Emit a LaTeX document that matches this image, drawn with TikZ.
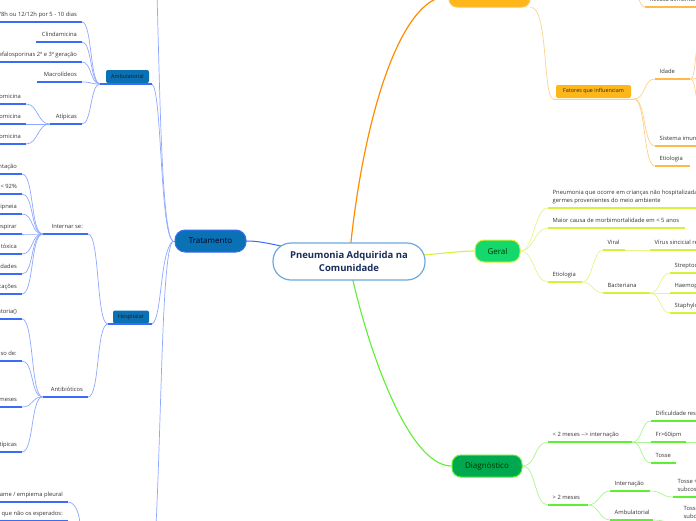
\documentclass[tikz,border=0pt]{standalone}
\usepackage{fontspec}
\setmainfont{Open Sans}
\usetikzlibrary{backgrounds}
\definecolor{txt}{HTML}{333333}
\definecolor{bthickc}{HTML}{3B6CF5}
\definecolor{bthinc}{HTML}{8FA8FF}
\definecolor{bfill}{HTML}{0A72B4}
\definecolor{othickc}{HTML}{FFB84A}
\definecolor{othinc}{HTML}{FFD08A}
\definecolor{ofill}{HTML}{FFB619}
\definecolor{ythickc}{HTML}{D8F03C}
\definecolor{ythinc}{HTML}{E6F48A}
\definecolor{gfillA}{HTML}{14D86C}
\definecolor{gthickc}{HTML}{5CF030}
\definecolor{gthinc}{HTML}{A8F590}
\definecolor{gfillB}{HTML}{00A84F}
\definecolor{ctrborder}{HTML}{6AA9DD}
\definecolor{ctrtext}{HTML}{1B2C5C}
\tikzset{
  leaf/.style={inner xsep=0pt, inner ysep=0pt, text depth=5pt, font=\fontsize{5.8}{8.5}\selectfont, text=txt},
  bthick/.style={draw=bthickc, line width=1.5pt},
  bthin/.style={draw=bthinc, line width=0.7pt},
  othick/.style={draw=othickc, line width=1.5pt},
  othin/.style={draw=othinc, line width=0.7pt},
  ythick/.style={draw=ythickc, line width=1.5pt},
  ythin/.style={draw=ythinc, line width=0.7pt},
  gthick/.style={draw=gthickc, line width=1.5pt},
  gthin/.style={draw=gthinc, line width=0.7pt},
  mainbox/.style={rounded corners=8pt, line width=1pt, font=\fontsize{8}{10}\selectfont},
  subbox/.style={rounded corners=2pt, inner sep=0pt, font=\fontsize{5.4}{7}\selectfont}
}
% left-side leaf: name, x1, x2, y, text, style
\newcommand\leafL[6]{%
  \node[leaf, anchor=south east] (#1) at (#3,#4) {\makebox[\dimexpr #3pt-#2pt\relax][r]{#5\hspace{5pt}}};
  \draw[#6] (#1.south west) -- (#1.south east);}
% right-side leaf
\newcommand\leafR[6]{%
  \node[leaf, anchor=south west] (#1) at (#2,#4) {\makebox[\dimexpr #3pt-#2pt\relax][l]{\hspace{4.5pt}#5}};
  \draw[#6] (#1.south west) -- (#1.south east);}
\newcommand\two[2]{\begin{tabular}[b]{@{}l@{}}#1\\#2\end{tabular}}
\begin{document}
\begin{tikzpicture}[x=1pt,y=-1pt]
\path[use as bounding box] (0,0) rectangle (696,520);
\clip (0,0) rectangle (696,520);

% ===== central and main nodes =====
\node[draw=ctrborder, fill=white, line width=1.2pt, rounded corners=18pt, minimum width=152pt, minimum height=37pt,
      align=center, text=ctrtext, font=\fontsize{9.5}{13}\selectfont\bfseries] (ctr) at (349,261.5)
      {Pneumonia Adquirida na\\Comunidade};
\node[mainbox, draw=bthickc, fill=bfill, text=black!85!blue, minimum width=71pt, minimum height=22pt, rounded corners=10pt] (trat) at (210.5,241) {Tratamento};
\node[mainbox, draw=ofill!80!white, fill=ofill, text=black!80, minimum width=81pt, minimum height=22pt] (orng) at (489.5,-4) {\raisebox{2pt}{Fisiopatologia}};
\node[mainbox, draw=ythickc, fill=gfillA, text=black!80!green, minimum width=45pt, minimum height=22pt, rounded corners=9pt] (geral) at (497.5,251) {Geral};
\node[mainbox, draw=gthickc, fill=gfillB, text=black!80!green, minimum width=70pt, minimum height=22pt, rounded corners=9pt] (diag) at (487,466) {Diagnóstico};

% sub boxes
\node[subbox, fill=bfill, text=black!90, minimum width=43pt, minimum height=13pt] (amb) at (127.5,76.5) {Ambulatorial};
\node[subbox, fill=bfill, text=black!90, minimum width=36pt, minimum height=13pt] (hosp) at (131,317) {Hospitalar};
\node[subbox, fill=ofill, text=black!85, minimum width=75pt, minimum height=13pt] (fat) at (593.5,91.5) {Fatores que influenciam};

\coordinate (ambL) at (100,84); \coordinate (ambR) at (152,84);
\coordinate (hospL) at (108,324); \coordinate (hospR) at (152,324);
\coordinate (fatL) at (553,99); \coordinate (fatR) at (634,99);
\draw[bthick] (ambL) -- (ambR);
\draw[bthick] (hospL) -- (hospR);
\draw[othin, line width=1pt] (fatL) -- (fatR);

% ===== Tratamento / Ambulatorial leaves =====
\leafL{amox}{-120}{82}{22}{8/8h ou 12/12h por 5 - 10 dias}{bthick}
\leafL{clin}{36}{82}{42}{Clindamicina}{bthick}
\leafL{cefa}{-60}{82}{62}{Cefalosporinas 2ª e 3ª geração}{bthick}
\leafL{macr}{37}{82}{82}{Macrolídeos}{bthick}
\leafL{atip}{50}{82}{124}{Atípicas}{bthick}
\leafL{azit}{-40}{26}{104}{Azitromicina}{bthick}
\leafL{clar}{-40}{26}{124}{Claritromicina}{bthick}
\leafL{erit}{-40}{26}{144}{Eritromicina}{bthick}

% ===== Hospitalar leaves =====
\leafL{intr}{43}{88}{234}{Internar se:}{bthick}
\leafL{i1}{-60}{22}{174}{alimentação}{bthick}
\leafL{i2}{-60}{22}{194}{SatO2 < 92\%}{bthick}
\leafL{i3}{-60}{22}{214}{Taquipneia}{bthick}
\leafL{i4}{-60}{22}{234}{Dificuldade para respirar}{bthick}
\leafL{i5}{-60}{22}{254}{Aparência tóxica}{bthick}
\leafL{i6}{-60}{22}{274}{Comorbidades}{bthick}
\leafL{i7}{-60}{22}{294}{Complicações}{bthick}
\leafL{anti}{43}{88}{397}{Antibióticos}{bthick}
\leafL{a1}{-60}{22}{319}{respiratoria()}{bthick}
\leafL{a2}{-60}{22}{361}{Em caso de:}{bthick}
\leafL{a3}{-60}{22}{407}{< 2 meses}{bthick}
\leafL{a4}{-60}{22}{452}{Atípicas}{bthick}
\leafL{derr}{-80}{68}{502}{Derrame / empiema pleural}{bthick}
\leafL{germ}{-80}{68}{521}{Germes que não os esperados:}{bthick}

% ===== orange leaves =====
\leafR{recu}{645}{760}{7}{Recusa alimentar}{othick}
\leafR{idad}{655}{690}{79}{Idade}{othick}
\leafR{sist}{655}{760}{146}{Sistema imunológico}{othick}
\leafR{etio}{655}{690}{166}{Etiologia}{othick}

% ===== Geral leaves =====
\leafR{defi}{548}{800}{208}{\two{Pneumonia que ocorre em crianças não hospitalizadas, causada por}{germes provenientes do meio ambiente}}{ythick}
\leafR{maio}{548}{685}{228}{Maior causa de morbimortalidade em < 5 anos}{ythick}
\leafR{getio}{548}{582}{282}{Etiologia}{ythick}
\leafR{vira}{603}{625}{250}{Viral}{ythick}
\leafR{vsr}{650}{760}{250}{Vírus sincicial respiratório}{ythick}
\leafR{bact}{603}{650}{293}{Bacteriana}{ythick}
\leafR{strp}{670}{760}{273}{Streptococcus pneumoniae}{ythick}
\leafR{haem}{670}{760}{293}{Haemophilus influenzae}{ythick}
\leafR{stap}{670}{760}{313}{Staphylococcus aureus}{ythick}

% ===== Diagnostico leaves =====
\leafR{lt2}{548}{632}{442}{< 2 meses -{}-{}> internação}{gthick}
\leafR{difi}{651}{760}{421}{Dificuldade respiratória}{gthick}
\leafR{frr}{651}{686}{442}{Fr>60ipm}{gthick}
\leafR{toss}{651}{676}{463}{Tosse}{gthick}
\leafR{gt2}{548}{588}{505}{> 2 meses}{gthick}
\leafR{inte}{610}{650}{491}{Internação}{gthick}
\leafR{tos2}{673}{760}{497}{\two{Tosse + tiragem}{subcostal}}{gthick}
\leafR{ambu}{610}{653}{520}{Ambulatorial}{gthick}
\leafR{tos3}{679}{760}{524}{\two{Tosse sem tiragem}{subcostal}}{gthick}

% named free ends
\coordinate (topoff) at (157,-6);
\coordinate (botoff) at (156,526);
\coordinate (tratL) at (173,241);
\coordinate (bothub) at (80,526);
\coordinate (recuoff) at (637,-8);
\coordinate (idoff1) at (700,44);
\coordinate (idoff2) at (700,78);
\coordinate (idoff3) at (700,102);
\coordinate (froff) at (700,442);

\begin{pgfonlayer}{background}
\clip (0,0) rectangle (696,520);
% main branches
\draw[draw=bthickc, line width=1pt] (trat.east) .. controls (262,241) and (272,244) .. (ctr.center);
\draw[draw=orange!90!yellow, line width=1.2pt] (ctr.center) .. controls (362,120) and (400,-4) .. (orng.west);
\draw[draw=ythickc, line width=1.1pt] (ctr.center) .. controls (440,254) and (460,251) .. (geral.west);
\draw[draw=gthickc, line width=1.1pt] (ctr.center) .. controls (362,330) and (405,466) .. (diag.west);

% Tratamento fan
\draw[bthin] (tratL) .. controls (162,235) and (160,100) .. (topoff);
\draw[bthin] (tratL) .. controls (160,235) and (162,90) .. (ambR);
\draw[bthin] (tratL) .. controls (160,250) and (162,320) .. (hospR);
\draw[bthin] (tratL) .. controls (162,250) and (162,400) .. (botoff);
\draw[bthin] (trat.west) -- (tratL);

% Ambulatorial fan
\foreach \n in {amox,clin,cefa,macr,atip}
  \draw[bthin] (ambL) .. controls +(-10,0) and +(10,0) .. (\n.south east);
\foreach \n in {azit,clar,erit}
  \draw[bthin] (atip.south west) .. controls +(-12,0) and +(12,0) .. (\n.south east);
% Hospitalar fan
\foreach \n in {intr,anti}
  \draw[bthin] (hospL) .. controls +(-12,0) and +(12,0) .. (\n.south east);
\foreach \n in {i1,i2,i3,i4,i5,i6,i7}
  \draw[bthin] (intr.south west) .. controls +(-12,0) and +(12,0) .. (\n.south east);
\foreach \n in {a1,a2,a3,a4}
  \draw[bthin] (anti.south west) .. controls +(-12,0) and +(12,0) .. (\n.south east);
\draw[bthin] (derr.south east) .. controls +(8,0) and +(0,-10) .. (bothub);

% orange fan
\draw[othin] (orng.south east) .. controls (548,5) and (543,97) .. (fatL);
\draw[othin] (recuoff) .. controls (640,4) and (642,7) .. (recu.south west);
\foreach \n in {idad,sist,etio}
  \draw[othin] (fatR) .. controls +(12,0) and +(-12,0) .. (\n.south west);
\foreach \n in {idoff1,idoff2,idoff3}
  \draw[othin] (idad.south east) .. controls +(6,0) and +(-6,0) .. (\n);

% Geral fan
\foreach \n in {defi,maio,getio}
  \draw[ythin] (geral.east) .. controls +(14,0) and +(-14,0) .. (\n.south west);
\foreach \n in {vira,bact}
  \draw[ythin] (getio.south east) .. controls +(10,0) and +(-10,0) .. (\n.south west);
\draw[ythin] (vira.south east) -- (vsr.south west);
\foreach \n in {strp,haem,stap}
  \draw[ythin] (bact.south east) .. controls +(10,0) and +(-10,0) .. (\n.south west);

% Diagnostico fan
\foreach \n in {lt2,gt2}
  \draw[gthin] (diag.east) .. controls +(14,0) and +(-14,0) .. (\n.south west);
\foreach \n in {difi,frr,toss}
  \draw[gthin] (lt2.south east) .. controls +(10,0) and +(-10,0) .. (\n.south west);
\draw[gthin] (frr.south east) -- (froff);
\foreach \n in {inte,ambu}
  \draw[gthin] (gt2.south east) .. controls +(10,0) and +(-10,0) .. (\n.south west);
\draw[gthin] (inte.south east) .. controls +(12,0) and +(-12,0) .. (tos2.south west);
\draw[gthin] (ambu.south east) .. controls +(12,0) and +(-12,0) .. (tos3.south west);
\end{pgfonlayer}
\end{tikzpicture}
\end{document}
